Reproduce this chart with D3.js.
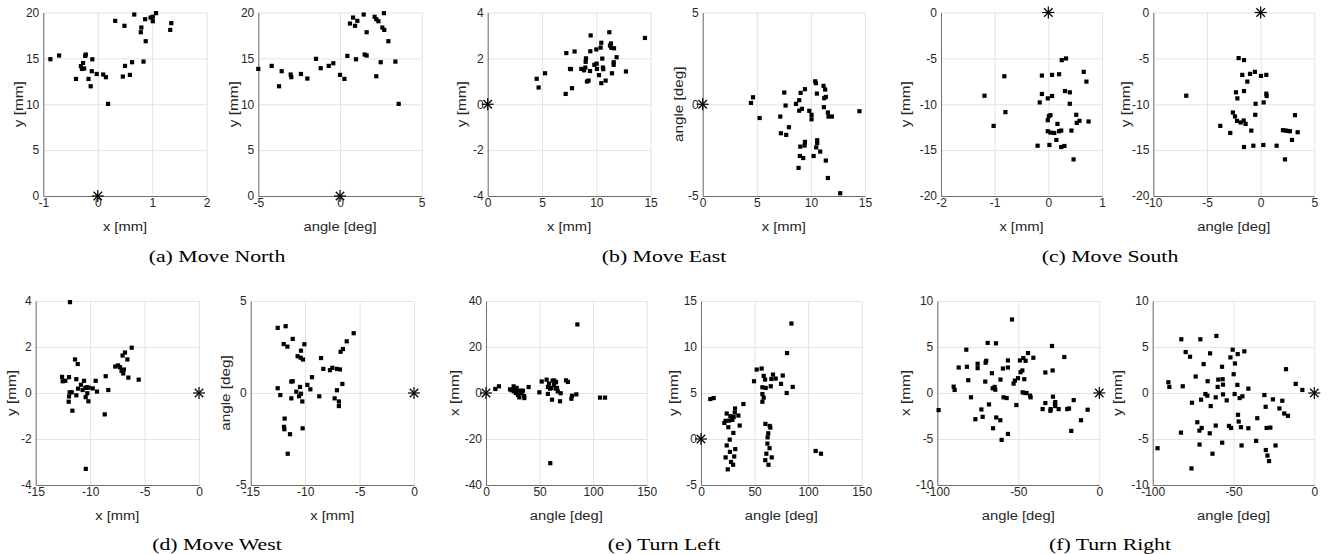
<!DOCTYPE html>
<html><head><meta charset="utf-8">
<script src="https://cdn.jsdelivr.net/npm/d3@7"></script>
<style>
body{margin:0;background:#fff;}
svg{display:block;}
</style></head><body>
<svg id="chart" width="1328" height="554"></svg>
<script>
// ---------------- DATA ----------------
// (a) Move North
const northX_Y = [[-0.87,14.91],[-0.71,15.31],[-0.22,15.42],[-0.23,15.27],[-0.27,14.5],[-0.31,14.15],[-0.29,13.85],[-0.25,13.9],[-0.1,14.9],[-0.40,12.76],[-0.17,12.76],[-0.13,11.96],[-0.11,13.6],[-0.02,13.3],[0.10,13.24],[0.15,12.95],[0.19,10.04],[0.32,19.09],[0.49,18.55],[0.50,14.18],[0.46,13.02],[0.59,13.2],[0.63,14.58],[0.67,19.78],[0.79,17.85],[0.80,18.36],[0.87,19.27],[0.88,16.87],[0.84,14.65],[0.97,19.45],[1.01,19.53],[1.01,19.05],[1.07,19.93],[1.33,18.1],[1.35,18.84]];
const northAng_Y = [[-5.0,13.85],[-4.18,14.18],[-3.73,11.96],[-3.57,13.6],[-3.02,13.24],[-2.98,12.95],[-2.39,13.3],[-2.0,12.8],[-1.47,14.95],[-1.18,13.93],[-0.69,14.18],[-0.41,14.47],[0.0,13.2],[0.27,12.76],[0.45,15.27],[0.61,18.8],[0.8,19.45],[0.92,18.55],[1.06,19.09],[0.98,14.9],[1.45,19.78],[1.51,15.42],[1.63,15.31],[1.63,17.85],[2.12,19.53],[2.22,19.27],[2.35,19.05],[2.22,13.05],[2.49,14.58],[2.59,18.36],[2.71,18.1],[2.69,19.93],[2.96,16.87],[3.39,14.65],[3.59,10.04]];
// (b) Move East
const eastX_Y = [[4.51,1.11],[4.69,0.73],[5.28,1.35],[7.18,0.45],[7.24,2.23],[7.58,1.54],[7.67,1.53],[7.76,0.70],[8.0,2.30],[8.62,1.54],[8.87,1.48],[8.99,1.6],[9.02,1.85],[9.05,2.0],[9.14,0.99],[9.29,1.03],[9.42,1.45],[9.45,2.31],[9.48,3.0],[9.82,1.72],[10.03,1.77],[10.0,2.39],[10.06,1.54],[10.25,1.27],[10.4,2.47],[10.46,2.68],[10.46,0.92],[10.55,1.99],[10.61,1.6],[10.64,1.53],[10.86,1.03],[11.2,3.14],[11.26,2.56],[11.35,2.65],[11.38,2.46],[11.63,2.44],[11.44,1.35],[11.6,1.72],[11.6,1.83],[11.87,2.05],[12.73,1.43],[14.48,2.89]];
const eastX_Ang = [[4.46,0.07],[4.65,0.38],[5.26,-0.75],[7.17,-0.67],[7.23,-1.58],[7.54,0.64],[7.66,-0.07],[7.72,-1.67],[7.97,-1.25],[8.62,0.02],[8.92,0.22],[8.92,-0.35],[9.02,-2.31],[9.05,0.62],[9.17,-0.25],[8.98,-2.82],[8.86,-3.47],[9.29,-2.93],[9.42,-2.25],[9.45,-2.05],[9.45,0.82],[9.85,-0.36],[10.06,-0.58],[10.06,-0.82],[10.25,-2.82],[10.4,1.25],[10.46,1.15],[10.55,0.58],[10.58,-1.96],[10.58,-2.11],[10.49,-2.35],[10.86,-2.58],[11.17,1.0],[11.2,-0.16],[11.23,0.33],[11.32,0.8],[11.38,0.4],[11.38,-3.07],[11.57,-0.45],[11.57,-4.02],[11.63,-0.67],[11.94,-0.67],[12.71,-4.85],[14.49,-0.38]];
// (c) Move South
const southX_Y = [[-1.19,-9.07],[-1.02,-12.36],[-0.82,-6.95],[-0.80,-10.86],[-0.2,-14.52],[-0.16,-9.8],[-0.12,-6.87],[-0.12,-8.88],[-0.01,-9.36],[-0.01,-11.74],[0.01,-11.3],[0.04,-11.19],[-0.01,-12.94],[0.04,-13.09],[0.02,-14.44],[0.07,-6.8],[0.07,-9.1],[0.11,-13.13],[0.15,-13.89],[0.17,-12.14],[0.2,-6.73],[0.2,-12.94],[0.24,-12.87],[0.24,-14.66],[0.25,-5.19],[0.3,-14.55],[0.31,-8.56],[0.33,-5.01],[0.4,-8.7],[0.4,-9.95],[0.43,-12.87],[0.47,-16.01],[0.52,-11.15],[0.53,-12.03],[0.58,-11.81],[0.66,-6.47],[0.71,-7.53],[0.75,-11.88]];
const southAng_Y = [[-6.93,-9.07],[-3.76,-12.36],[-2.83,-13.13],[-2.58,-10.9],[-2.39,-11.33],[-2.30,-8.7],[-2.2,-11.81],[-2.17,-9.36],[-2.05,-4.97],[-1.86,-11.99],[-1.71,-6.8],[-1.58,-11.77],[-1.55,-5.19],[-1.55,-14.66],[-1.55,-8.56],[-1.40,-12.14],[-1.24,-7.53],[-0.99,-6.69],[-0.87,-12.87],[-0.68,-14.52],[-0.53,-6.47],[-0.50,-11.15],[-0.47,-9.95],[0.03,-6.91],[0.25,-14.44],[0.28,-9.8],[0.53,-6.8],[0.53,-8.85],[0.56,-9.1],[1.49,-14.52],[2.08,-12.83],[2.33,-12.87],[2.52,-12.91],[2.73,-12.94],[2.27,-16.01],[2.92,-13.89],[3.2,-11.19],[3.45,-13.05]];
// (d) Move West
const westX_Y = [[-11.85,3.95],[-12.58,0.70],[-12.52,0.51],[-12.28,0.53],[-11.94,0.69],[-11.88,0.03],[-11.94,-0.15],[-11.97,-0.38],[-11.69,0.03],[-11.63,-0.77],[-11.39,1.46],[-11.14,1.26],[-11.27,-0.10],[-11.27,0.6],[-11.11,0.19],[-10.84,0.36],[-10.69,0.13],[-10.56,0.53],[-10.44,0.22],[-10.41,-0.18],[-10.29,0.25],[-10.26,-0.01],[-10.16,-0.36],[-10.13,0.23],[-9.76,0.2],[-9.49,0.53],[-9.37,0.06],[-8.66,-0.93],[-8.57,0.73],[-8.33,0.13],[-7.69,1.15],[-7.44,1.2],[-7.26,1.12],[-7.11,0.96],[-7.02,1.63],[-6.96,0.85],[-6.9,1.02],[-6.8,1.76],[-6.58,1.46],[-6.49,0.67],[-6.18,1.97],[-5.54,0.58],[-10.4,-3.3]];
const westX_Ang = [[-12.52,3.54],[-11.79,3.63],[-11.97,2.66],[-11.63,2.52],[-11.14,2.94],[-10.07,2.65],[-10.38,2.3],[-10.69,2.0],[-10.41,1.92],[-10.2,1.82],[-8.54,1.9],[-8.33,1.31],[-7.72,1.24],[-7.5,1.37],[-7.08,1.31],[-6.8,1.28],[-6.74,2.24],[-6.53,2.39],[-6.18,2.81],[-5.54,3.25],[-12.52,0.26],[-12.28,-0.11],[-11.27,0.62],[-11.14,0.64],[-11.27,-0.29],[-10.81,0.07],[-10.56,-0.18],[-10.47,0.33],[-10.38,-0.04],[-10.26,-0.46],[-9.8,0.44],[-9.52,0.2],[-9.37,0.86],[-8.7,-0.18],[-7.29,-0.29],[-7.08,0.15],[-6.9,-0.46],[-6.9,-0.71],[-6.58,0.49],[-11.88,-1.39],[-11.94,-1.84],[-11.91,-1.97],[-11.39,-2.24],[-10.23,-1.92],[-11.6,-3.3]];
// (e) Turn Left
const leftAng_X = [[85.3,29.8],[8.7,1.75],[12.1,2.9],[22.4,1.6],[23.9,1.2],[25.8,2.9],[26.1,0.7],[27.4,1.75],[28.0,0],[28.6,2.2],[29.9,-0.9],[30.5,0.9],[31.1,-1.9],[32.7,1.0],[33.3,-0.1],[34.5,1.0],[35.5,-1.3],[35.8,-2.2],[39.8,2.6],[49.8,0.3],[52.0,5.0],[56.6,5.8],[57.8,2.6],[57.8,-0.4],[58.8,4.1],[59.8,1.9],[60.7,2.2],[61.6,-2.9],[62.2,5.4],[63.5,3.5],[63.8,5.4],[65.0,1.9],[65.4,4.7],[66.3,2.2],[67.0,0.7],[69.1,-3.6],[69.7,-0.1],[74.7,5.5],[76.5,4.8],[79.7,-2.5],[80.3,-1.2],[84.3,-0.6],[106.4,-2.0],[111.1,-2.0],[60,-30.5]];
const leftAng_Y = [[84.4,12.55],[80.3,9.34],[85.6,5.66],[80.0,5.0],[8.7,4.34],[11.8,4.45],[39.6,3.8],[24.0,2.77],[31.8,3.32],[31.5,2.88],[27.4,2.48],[34.9,2.55],[26.4,2.0],[29.3,2.08],[30.5,2.4],[21.8,1.75],[23.0,1.97],[36.1,1.46],[25.5,1.28],[30.2,0.66],[26.8,-0.07],[49.5,6.28],[52.0,7.55],[56.6,7.66],[58.5,6.86],[59.8,6.46],[57.3,5.62],[60.4,5.55],[57.3,4.89],[58.5,4.49],[57.3,4.05],[65.1,5.73],[65.7,6.53],[67.2,7.0],[69.7,6.57],[74.7,5.99],[76.3,6.9],[60.1,1.64],[64.1,1.42],[64.7,1.24],[62.8,0.62],[62.2,0.18],[24,-0.7],[27,-1.4],[23,-2.0],[28,-2.5],[25,-3.3],[31,-1.9],[32,-1.1],[30,-2.8],[62,-0.5],[64,-1.0],[61,-1.6],[66,-2.0],[63,-2.8],[60,-2.3],[107,-1.3],[112,-1.6]];
// (f) Turn Right
const rightAng_X = [[-99.2,-1.86],[-89.9,0.69],[-89.3,0.33],[-86.8,2.77],[-82.1,4.71],[-81.7,2.85],[-80.9,1.39],[-79.2,-0.47],[-76.5,-2.85],[-75.1,3.18],[-75.1,2.7],[-72.8,-1.79],[-72.0,-2.59],[-70.4,1.24],[-70.2,3.29],[-69.8,3.5],[-68.9,5.44],[-68.1,-1.24],[-66.3,2.15],[-65.6,-3.83],[-65.8,0.51],[-64.6,0.66],[-64.2,0.36],[-63.8,5.4],[-63.6,-2.66],[-61.1,-2.96],[-60.3,-5.1],[-61.0,1.46],[-59.5,2.66],[-59.1,-0.47],[-57.2,-0.55],[-56.4,3.54],[-56.4,2.77],[-56.4,-4.45],[-53.9,7.99],[-52.9,1.02],[-52.1,1.35],[-51.2,-1.31],[-50.2,1.61],[-49.0,3.54],[-48.6,2.26],[-47.5,2.45],[-46.9,3.8],[-46.3,1.5],[-47.3,0.07],[-46.1,0],[-45.5,3.5],[-44.9,0],[-44.0,4.34],[-42.8,-0.29],[-42.4,-0.47],[-40.7,3.83],[-35.0,-1.75],[-33.3,2.23],[-33.3,-1.09],[-30.2,-1.93],[-30.0,-1.75],[-29.2,5.11],[-28.8,2.45],[-28.6,-0.4],[-27.4,-1.2],[-27.2,-0.99],[-27.2,-1.42],[-25.1,-1.75],[-21.6,3.91],[-19.8,-1.75],[-18.7,-1.68],[-17.3,-4.12],[-15.8,-0.77],[-11.3,-2.96],[-7.2,-1.82]];
const rightAng_Y = [[-90.3,1.17],[-89.7,0.66],[-82.3,5.84],[-79.6,4.45],[-76.9,3.94],[-81.4,0.73],[-82.5,-4.31],[-75.7,-1.06],[-73.4,1.79],[-72.4,-3.18],[-70.5,5.84],[-70.1,-0.73],[-71.1,-4.09],[-69.7,-3.8],[-68.5,3.14],[-67.4,-0.11],[-66.2,-0.29],[-66.0,1.28],[-64.5,4.31],[-64.7,-4.38],[-64.1,-1.42],[-61.0,-0.47],[-61.0,-3.54],[-60.6,6.2],[-59.8,0.66],[-59.4,1.46],[-57.1,2.85],[-56.7,1.5],[-56.5,0.91],[-56.5,-0.15],[-54.2,-0.8],[-52.8,-3.58],[-51.9,3.87],[-51.5,-3.8],[-50.5,4.71],[-49.9,2.04],[-49.3,-0.11],[-49.1,3.21],[-47.4,4.23],[-47.6,0.88],[-47.2,-2.37],[-46.8,-3.1],[-46.2,-0.55],[-45.4,-3.72],[-44.5,-0.36],[-43.3,4.53],[-40.8,-3.83],[-40.8,0.47],[-35.3,-2.74],[-30.9,-0.22],[-30.1,-1.5],[-29.5,-3.8],[-27.2,-3.76],[-25.6,-0.69],[-21.6,-1.68],[-19.8,-0.84],[-18.6,-2.23],[-16.3,-2.48],[-17.5,2.59],[-11.5,0.99],[-7.4,0.33],[-97,-6.0],[-76,-8.2],[-71,-5.6],[-63,-6.6],[-57,-5.4],[-45,-5.7],[-36,-5.2],[-30,-6.2],[-29,-6.8],[-28,-7.4],[-24,-5.7]];

// tick labels
const ticksN_x = [-1,0,1,2], ticksN_ang = [-5,0,5], ticksN_y = [0,5,10,15,20];
const ticksE_x = [0,5,10,15], ticksE_y = [-4,-2,0,2,4], ticksE_ang = [-5,0,5];
const ticksS_x = [-2,-1,0,1], ticksS_ang = [-10,-5,0,5], ticksS_y = [-20,-15,-10,-5,0];
const ticksW_x = [-15,-10,-5,0], ticksW_y = [-4,-2,0,2,4], ticksW_ang = [-5,0,5];
const ticksL_ang = [0,50,100,150], ticksL_x = [-40,-20,0,20,40], ticksL_y = [-5,0,5,10,15];
const ticksR_ang = [-100,-50,0], ticksR_x = [-10,-5,0,5,10], ticksR_y = [-10,-5,0,5,10];

const captions = ["(a) Move North","(b) Move East","(c) Move South","(d) Move West","(e) Turn Left","(f) Turn Right"];

// ---------------- LAYOUT ----------------
const rows = [[12.5,196],[301,485]];
const ext = a => [a[0], a[a.length-1]];
const panels = [
 {pts:northX_Y,  xt:ticksN_x,  yt:ticksN_y,  xl:"x [mm]",      yl:"y [mm]",      L:43.3,  R:206.7,  row:0, lo:25},
 {pts:northAng_Y,xt:ticksN_ang,yt:ticksN_y,  xl:"angle [deg]", yl:"y [mm]",      L:258.3, R:421.7,  row:0, lo:25},
 {pts:eastX_Y,   xt:ticksE_x,  yt:ticksE_y,  xl:"x [mm]",      yl:"y [mm]",      L:487.7, R:650.6,  row:0, lo:26},
 {pts:eastX_Ang, xt:ticksE_x,  yt:ticksE_ang,xl:"x [mm]",      yl:"angle [deg]", L:702.7, R:865,    row:0, lo:24},
 {pts:southX_Y,  xt:ticksS_x,  yt:ticksS_y,  xl:"x [mm]",      yl:"y [mm]",      L:941,   R:1102,   row:0, lo:35},
 {pts:southAng_Y,xt:ticksS_ang,yt:ticksS_y,  xl:"angle [deg]", yl:"y [mm]",      L:1153.3,R:1314.3, row:0, lo:28},
 {pts:westX_Y,   xt:ticksW_x,  yt:ticksW_y,  xl:"x [mm]",      yl:"y [mm]",      L:35.7,  R:199,    row:1, lo:24},
 {pts:westX_Ang, xt:ticksW_x,  yt:ticksW_ang,xl:"x [mm]",      yl:"angle [deg]", L:250.7, R:414,    row:1, lo:25},
 {pts:leftAng_X, xt:ticksL_ang,yt:ticksL_x,  xl:"angle [deg]", yl:"x [mm]",      L:486,   R:646.7,  row:1, lo:31},
 {pts:leftAng_Y, xt:ticksL_ang,yt:ticksL_y,  xl:"angle [deg]", yl:"y [mm]",      L:701,   R:861.7,  row:1, lo:27},
 {pts:rightAng_X,xt:ticksR_ang,yt:ticksR_x,  xl:"angle [deg]", yl:"x [mm]",      L:937.3, R:1099.3, row:1, lo:31.5},
 {pts:rightAng_Y,xt:ticksR_ang,yt:ticksR_y,  xl:"angle [deg]", yl:"y [mm]",      L:1152.7,R:1314.3, row:1, lo:35}
];
const captionX = [217,664,1110];
const captionBaseline = [261.5, 550.2];

const svg = d3.select("#chart");
const sans = "'Liberation Sans', Arial, Helvetica, sans-serif";
const serif = "'Liberation Serif', 'Times New Roman', serif";

function stretch(sel, k) {
  sel.each(function() {
    const w = this.getComputedTextLength();
    d3.select(this).attr("textLength", w * k).attr("lengthAdjust", "spacingAndGlyphs");
  });
}

panels.forEach(p => {
  const [top, bot] = rows[p.row];
  const x = d3.scaleLinear().domain(ext(p.xt)).range([p.L, p.R]);
  const y = d3.scaleLinear().domain(ext(p.yt)).range([bot, top]);
  const g = svg.append("g");

  // grid
  const gx = g.append("g").attr("transform", `translate(0,${bot})`)
    .call(d3.axisBottom(x).tickValues(p.xt).tickSize(-(bot-top)).tickFormat(""));
  const gy = g.append("g").attr("transform", `translate(${p.L},0)`)
    .call(d3.axisLeft(y).tickValues(p.yt).tickSize(-(p.R-p.L)).tickFormat(""));
  [gx, gy].forEach(a => {
    a.select(".domain").remove();
    a.selectAll(".tick line").attr("stroke", "#e3e3e3").attr("stroke-width", 1);
  });

  // axes with labels
  const ax = g.append("g").attr("transform", `translate(0,${bot})`)
    .call(d3.axisBottom(x).tickValues(p.xt).tickSize(0).tickPadding(2.5).tickFormat(d => String(d)));
  const ay = g.append("g").attr("transform", `translate(${p.L},0)`)
    .call(d3.axisLeft(y).tickValues(p.yt).tickSize(0).tickPadding(4).tickFormat(d => String(d)));
  [ax, ay].forEach(a => {
    a.select(".domain").attr("stroke", "#707070").attr("stroke-width", 1);
    a.selectAll(".tick text").attr("font-family", sans).attr("font-size", "12px").attr("fill", "#262626");
  });

  // points
  g.append("g").selectAll("rect").data(p.pts).join("rect")
    .attr("x", d => x(d[0]) - 2.1).attr("y", d => y(d[1]) - 2.1)
    .attr("width", 4.2).attr("height", 4.2).attr("fill", "#000");

  // star at origin
  const sx = x(0), sy = y(0), r = 6, rd = r * 0.7071;
  const sg = g.append("g").attr("stroke", "#000").attr("stroke-width", 1.2);
  [[-r,0,r,0],[0,-r,0,r],[-rd,-rd,rd,rd],[-rd,rd,rd,-rd]].forEach(s => {
    sg.append("line").attr("x1", sx+s[0]).attr("y1", sy+s[1]).attr("x2", sx+s[2]).attr("y2", sy+s[3]);
  });

  // axis labels
  const xlab = g.append("text").attr("x", (p.L+p.R)/2).attr("y", bot + 35)
    .attr("text-anchor", "middle").attr("font-family", sans).attr("font-size", "12.5px")
    .attr("fill", "#262626").text(p.xl);
  const ylab = g.append("text").attr("transform", `translate(${p.L - p.lo},${(top+bot)/2}) rotate(-90)`)
    .attr("dy", "0.35em").attr("text-anchor", "middle").attr("font-family", sans)
    .attr("font-size", "12.5px").attr("fill", "#262626").text(p.yl);
  stretch(xlab, 1.18);
  stretch(ylab, 1.22);
});

captions.forEach((c, i) => {
  const t = svg.append("text").attr("x", captionX[i % 3]).attr("y", captionBaseline[Math.floor(i/3)])
    .attr("text-anchor", "middle").attr("font-family", serif).attr("font-size", "17px")
    .attr("fill", "#000").text(c);
  stretch(t, 1.28);
});
</script>
</body></html>
